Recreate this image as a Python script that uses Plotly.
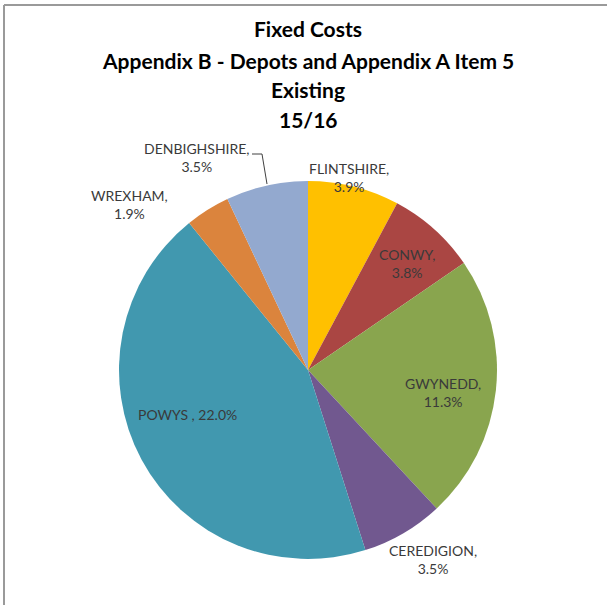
import math
import plotly.graph_objects as go

# ---- data ----
regions = ["FLINTSHIRE", "CONWY", "GWYNEDD", "CEREDIGION", "POWYS", "WREXHAM", "DENBIGHSHIRE"]
shares = [3.9, 3.8, 11.3, 3.5, 22.0, 1.9, 3.5]
colors = ["#FFC000", "#AA4643", "#89A54E", "#71588F", "#4198AF", "#DB843D", "#93A9CF"]
title_lines = ["Fixed Costs", "Appendix B - Depots and Appendix A Item 5", "Existing", "15/16"]

W, H = 607, 605
cx, cy, R = 308, 370, 189  # pie centre / radius in pixels

# label placement (angle offset from slice middle in degrees, radius factor)
label_pos = {
    "FLINTSHIRE": (-2, 1.04),
    "CONWY": (1, 0.77),
    "GWYNEDD": (3, 0.725),
    "CEREDIGION": (-3, 1.20),
    "POWYS": (8, 0.68),
    "WREXHAM": (-15, 1.29),
    "DENBIGHSHIRE": (-15, 1.27),
}

fig = go.Figure(go.Pie(
    labels=regions, values=shares, sort=False, direction="clockwise", rotation=0,
    marker=dict(colors=colors, line=dict(width=0)), textinfo="none",
    hoverinfo="label+value",
    domain=dict(x=[(cx - R) / W, (cx + R) / W], y=[1 - (cy + R) / H, 1 - (cy - R) / H]),
    showlegend=False,
))

total = sum(shares)
annotations = []
cum = 0.0
for name, v in zip(regions, shares):
    mid = (cum + v / 2) / total * 360
    cum += v
    da, rf = label_pos[name]
    ang = math.radians(mid + da)
    px = cx + rf * R * math.sin(ang)
    py = cy - rf * R * math.cos(ang)
    if name == "POWYS":
        txt = f"{name} , {v:.1f}%"
    else:
        txt = f"{name},<br>{v:.1f}%"
    annotations.append(dict(x=px / W, y=1 - py / H, xref="paper", yref="paper", text=txt,
                            showarrow=False, xanchor="center", yanchor="middle",
                            font=dict(family="Lato", size=14, color="#3a3a3a")))

title_y = [28, 60, 90, 119]
for t, ty in zip(title_lines, title_y):
    annotations.append(dict(x=308 / W, y=1 - ty / H, xref="paper", yref="paper",
                            text=f"<b>{t}</b>", showarrow=False, xanchor="center", yanchor="middle",
                            font=dict(family="Lato", size=21, color="#000000")))

shapes = [
    # chart frame (top and left)
    dict(type="line", xref="paper", yref="paper", x0=4 / W, x1=1, y0=1 - 5 / H, y1=1 - 5 / H,
         line=dict(color="#9a9a9a", width=2)),
    dict(type="line", xref="paper", yref="paper", x0=4 / W, x1=4 / W, y0=0, y1=1 - 5 / H,
         line=dict(color="#9a9a9a", width=2)),
    # leader line for DENBIGHSHIRE
    dict(type="path", xref="paper", yref="paper",
         path=f"M {252 / W},{1 - 154 / H} L {262 / W},{1 - 154 / H} L {267 / W},{1 - 184 / H}",
         line=dict(color="#404040", width=1)),
]

fig.update_layout(
    width=W, height=H, margin=dict(l=0, r=0, t=0, b=0),
    paper_bgcolor="white", plot_bgcolor="white",
    annotations=annotations, shapes=shapes,
)
fig.write_html("out.html")
